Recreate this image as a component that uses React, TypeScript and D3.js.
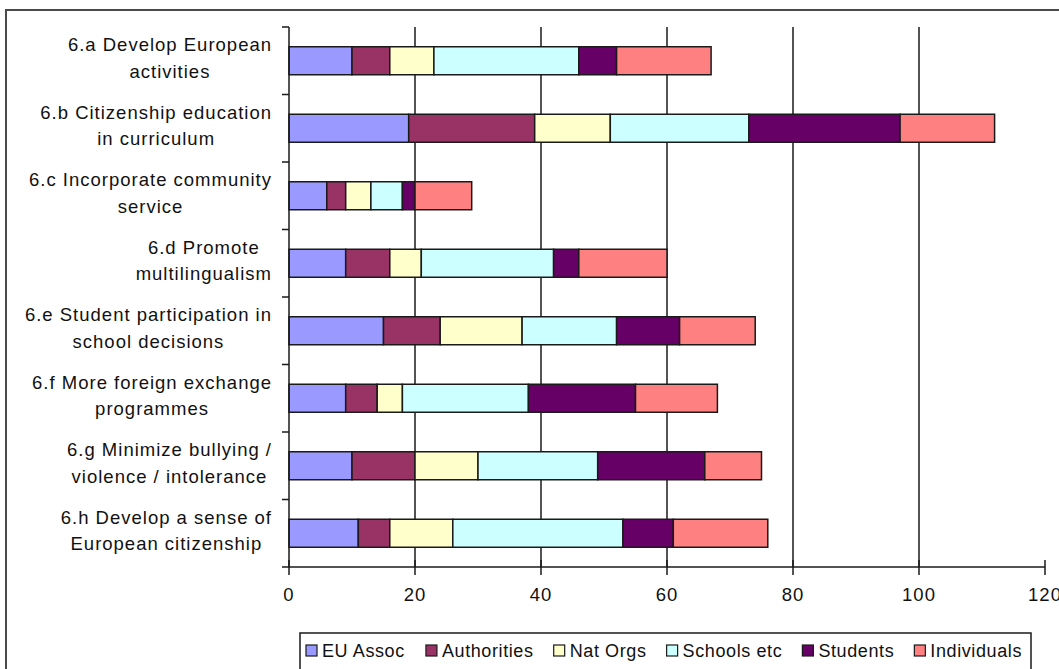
import React from "react";
import * as d3 from "d3";

const categories = [
  "6.a Develop European\nactivities",
  "6.b Citizenship education\nin curriculum",
  "6.c Incorporate community\nservice",
  "6.d Promote\nmultilingualism",
  "6.e Student participation in\nschool decisions",
  "6.f More foreign exchange\nprogrammes",
  "6.g Minimize bullying /\nviolence /  intolerance",
  "6.h Develop a sense of\nEuropean citizenship",
];

const seriesNames = ["EU Assoc", "Authorities", "Nat Orgs", "Schools etc", "Students", "Individuals"];
const seriesColors = ["#9999FF", "#993366", "#FFFFCC", "#CCFFFF", "#660066", "#FF8080"];

const euAssoc = [10, 19, 6, 9, 15, 9, 10, 11];
const authorities = [6, 20, 3, 7, 9, 5, 10, 5];
const natOrgs = [7, 12, 4, 5, 13, 4, 10, 10];
const schools = [23, 22, 5, 21, 15, 20, 19, 27];
const students = [6, 24, 2, 4, 10, 17, 17, 8];
const individuals = [15, 15, 9, 14, 12, 13, 9, 15];

const xTicks = [0, 20, 40, 60, 80, 100, 120];

const W = 1059;
const H = 669;
const FONT = "'Liberation Sans', Arial, sans-serif";
const FS = 18.5;
const LS = 1;

let _ctx: CanvasRenderingContext2D | null = null;
function measure(t: string, fs: number, ls: number) {
  if (!_ctx) _ctx = document.createElement("canvas").getContext("2d");
  if (!_ctx) return t.length * fs * 0.55;
  _ctx.font = `${fs}px 'Liberation Sans', Arial, sans-serif`;
  return _ctx.measureText(t).width + ls * t.length;
}

export default function App() {
  const left = 289;
  const right = 1045;
  const top = 27;
  const bottom = 567;

  const x = d3.scaleLinear().domain([0, 120]).range([left, right]);
  const y = d3.scaleBand<string>().domain(categories).range([top, bottom]).padding(0);
  const barH = 28;

  const rows = categories.map((c, i) => ({
    cat: c,
    "EU Assoc": euAssoc[i],
    Authorities: authorities[i],
    "Nat Orgs": natOrgs[i],
    "Schools etc": schools[i],
    Students: students[i],
    Individuals: individuals[i],
  }));
  const stack = d3.stack<any>().keys(seriesNames)(rows);

  const stroke = "#1a1a1a";

  // legend layout
  const legFS = 18;
  const legLS = 0.6;
  const textWs = seriesNames.map((s) => measure(s, legFS, legLS));
  const legStart = 306;
  const legEnd = 1022;
  const used = textWs.reduce((a, b) => a + b + 16, 0);
  const gap = (legEnd - legStart - used) / 5;
  let cx = legStart;
  const legItems = seriesNames.map((s, i) => {
    const item = { name: s, color: seriesColors[i], mx: cx, tx: cx + 16 };
    cx += 16 + textWs[i] + gap;
    return item;
  });

  const step = y.step();

  return (
    <svg
      width={W}
      height={H}
      style={{ position: "absolute", left: 0, top: 0, display: "block", background: "#fff" }}
      fontFamily={FONT}
    >
      <rect x={0} y={0} width={W} height={H} fill="#fff" />
      <rect x={6} y={10} width={W + 20} height={H + 20} fill="#fff" stroke="#4a4a4a" strokeWidth={2} />

      {/* gridlines */}
      {xTicks
        .filter((t) => t > 0 && t < 120)
        .map((t) => (
          <line key={"g" + t} x1={x(t)} x2={x(t)} y1={top} y2={bottom} stroke={stroke} strokeWidth={1.5} />
        ))}

      {/* bars */}
      {stack.map((layer, si) =>
        layer.map((d, i) => {
          const cy = (y(categories[i]) as number) + step / 2;
          return (
            <rect
              key={si + "-" + i}
              x={x(d[0])}
              y={cy - barH / 2}
              width={x(d[1]) - x(d[0])}
              height={barH}
              fill={seriesColors[si]}
              stroke={stroke}
              strokeWidth={1.5}
            />
          );
        })
      )}

      {/* y axis */}
      <line x1={left} x2={left} y1={top} y2={bottom} stroke={stroke} strokeWidth={1.5} />
      {d3.range(categories.length + 1).map((i) => (
        <line key={"yt" + i} x1={left - 7} x2={left} y1={top + i * step} y2={top + i * step} stroke={stroke} strokeWidth={1.5} />
      ))}

      {/* category labels */}
      {categories.map((c) => {
        const lines = c.split("\n");
        const maxW = Math.max(...lines.map((l) => measure(l, FS, LS)));
        const cxl = 272 - maxW / 2;
        const cy = (y(c) as number) + step / 2;
        const lh = 26.5;
        return (
          <text key={c} fontSize={FS} letterSpacing={LS} textAnchor="middle" fill="#111">
            {lines.map((l, li) => (
              <tspan key={li} x={cxl} y={cy + (li - (lines.length - 1) / 2) * lh + 3.8}>
                {l}
              </tspan>
            ))}
          </text>
        );
      })}

      {/* x axis */}
      <line x1={left} x2={right} y1={bottom} y2={bottom} stroke={stroke} strokeWidth={1.5} />
      {xTicks.map((t) => (
        <g key={"xt" + t}>
          <line x1={x(t)} x2={x(t)} y1={bottom - 7} y2={bottom + 8} stroke={stroke} strokeWidth={1.5} />
          <text x={x(t)} y={601} fontSize={FS} letterSpacing={LS} textAnchor="middle" fill="#111">
            {t}
          </text>
        </g>
      ))}

      {/* legend */}
      <rect x={300} y={633} width={731} height={60} fill="#fff" stroke={stroke} strokeWidth={1.5} />
      {legItems.map((it) => (
        <g key={it.name}>
          <rect x={it.mx} y={645} width={11} height={11} fill={it.color} stroke={stroke} strokeWidth={1.2} />
          <text x={it.tx} y={657} fontSize={legFS} letterSpacing={legLS} fill="#111">
            {it.name}
          </text>
        </g>
      ))}
    </svg>
  );
}
